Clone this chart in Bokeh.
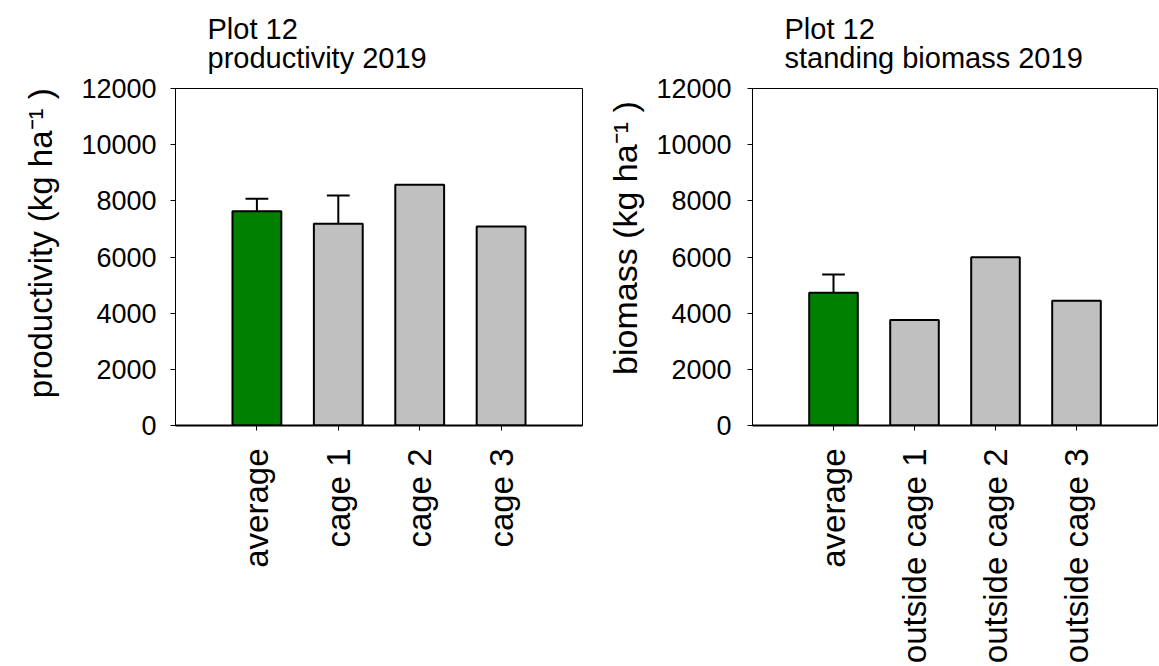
import math
from bokeh.plotting import figure
from bokeh.models import Range1d, FixedTicker, Title
from bokeh.layouts import row
from bokeh.embed import file_html
from bokeh.resources import INLINE

# ---- data ----
prod_categories = ["average", "cage 1", "cage 2", "cage 3"]
prod_values = [7630, 7180, 8570, 7090]
prod_errors = [440, 1010, 0, 0]

bio_categories = ["average", "outside cage 1", "outside cage 2", "outside cage 3"]
bio_values = [4725, 3755, 5995, 4440]
bio_errors = [655, 0, 0, 0]

bar_colors = ["#008000", "#C0C0C0", "#C0C0C0", "#C0C0C0"]
y_ticks = [0, 2000, 4000, 6000, 8000, 10000, 12000]

FONT = "Liberation Sans"
NB = "\u00a0"


def make_panel(categories, values, errors, ylabel, title_text,
               b_left, b_right, b_top, b_bottom, frame_w, frame_h,
               tick_standoff, ylab_standoff, ylab_size):
    n = len(categories)
    xs = [i + 1 for i in range(n)]
    p = figure(output_backend="svg", toolbar_location=None, title=None,
               frame_width=frame_w, frame_height=frame_h,
               min_border_left=b_left, min_border_right=b_right,
               min_border_top=b_top, min_border_bottom=b_bottom,
               x_range=Range1d(0, n + 1), y_range=Range1d(y_ticks[0], y_ticks[-1]),
               background_fill_color="white", border_fill_color="white")
    p.xgrid.visible = False
    p.ygrid.visible = False
    p.outline_line_color = "black"
    p.outline_line_width = 1

    p.vbar(x=xs, top=values, bottom=0, width=0.6, fill_color=bar_colors,
           line_color="black", line_width=2)

    ex = [x for x, e in zip(xs, errors) if e > 0]
    ev = [v for v, e in zip(values, errors) if e > 0]
    et = [v + e for v, e in zip(values, errors) if e > 0]
    p.segment(x0=ex, y0=ev, x1=ex, y1=et, line_color="black", line_width=2)
    p.segment(x0=[x - 0.14 for x in ex], y0=et, x1=[x + 0.14 for x in ex], y1=et,
              line_color="black", line_width=2)

    xa = p.xaxis[0]
    xa.ticker = FixedTicker(ticks=xs)
    xa.major_label_overrides = {x: c for x, c in zip(xs, categories)}
    xa.major_label_orientation = math.pi / 2
    xa.major_label_text_font = FONT
    xa.major_label_text_font_size = "33px"
    xa.major_label_text_color = "black"
    xa.major_label_standoff = 18
    xa.axis_line_width = 2
    xa.axis_line_color = "black"
    xa.major_tick_out = 5
    xa.major_tick_in = 0
    xa.major_tick_line_color = "black"
    xa.minor_tick_line_color = None

    ya = p.yaxis[0]
    ya.ticker = FixedTicker(ticks=y_ticks)
    ya.major_label_text_font = FONT
    ya.major_label_text_font_size = "27px"
    ya.major_label_text_color = "black"
    ya.major_label_standoff = tick_standoff
    ya.axis_line_color = "black"
    ya.axis_line_width = 1
    ya.major_tick_out = 5
    ya.major_tick_in = 0
    ya.major_tick_line_color = "black"
    ya.minor_tick_line_color = None
    ya.axis_label = ylabel
    ya.axis_label_text_font = FONT
    ya.axis_label_text_font_size = ylab_size
    ya.axis_label_text_font_style = "normal"
    ya.axis_label_text_color = "black"
    ya.axis_label_standoff = ylab_standoff

    p.add_layout(Title(text=title_text, text_font=FONT, text_font_size="29px",
                       text_font_style="normal", text_color="black", align="left",
                       vertical_align="top", text_line_height=0.9, offset=32,
                       standoff=25), "above")
    return p


p1 = make_panel(prod_categories, prod_values, prod_errors,
                NB * 3 + "productivity (kg ha\u207b\u00b9 )", "Plot 12\nproductivity 2019",
                175, 18, 88, 240, 407, 337, 14, 19, "33px")
p2 = make_panel(bio_categories, bio_values, bio_errors,
                NB * 4 + "biomass (kg ha\u207b\u00b9 )", "Plot 12\nstanding biomass 2019",
                152, 2, 86, 242, 405, 337, 16, 9, "34px")

layout = row(p1, p2)
open("out.html", "w").write(file_html(layout, INLINE))
